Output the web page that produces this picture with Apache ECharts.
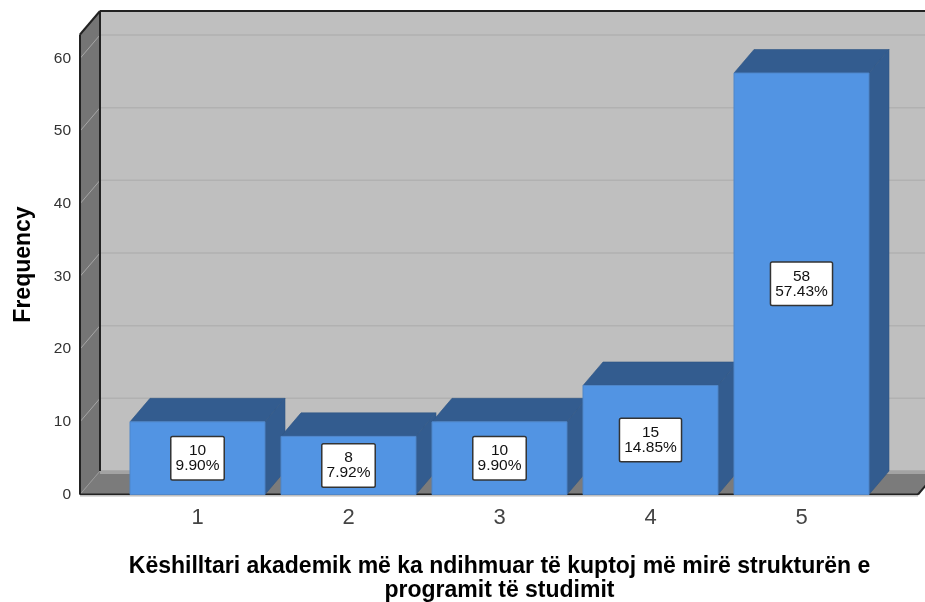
<!DOCTYPE html>
<html>
<head>
<meta charset="utf-8">
<style>html,body{margin:0;padding:0;background:#fff}#c{width:925px;height:602px}</style>
<script src="https://cdn.jsdelivr.net/npm/echarts@6/dist/echarts.min.js"></script>
</head>
<body>
<div id="c"></div>
<script>
const categories = ['1', '2', '3', '4', '5'];
const counts = [10, 8, 10, 15, 58];
const percents = ['9.90%', '7.92%', '9.90%', '14.85%', '57.43%'];
const yTicks = [0, 10, 20, 30, 40, 50, 60];
const yAxisTop = 63.3;
const xTitle = 'Këshilltari akademik më ka ndihmuar të kuptoj më mirë strukturën e\nprogramit të studimit';
const yTitle = 'Frequency';

const DX = 20, DY = 23.5;
const FONT = '"Liberation Sans", Arial, sans-serif';
const poly = (points, fill, stroke, lw) => ({
  type: 'polygon', shape: { points },
  style: { fill, stroke: stroke || fill, lineWidth: lw === undefined ? 0.6 : lw }
});
const line = (x1, y1, x2, y2, stroke, lineWidth) => ({
  type: 'line', shape: { x1, y1, x2, y2 }, style: { stroke, lineWidth }
});

function renderWalls(params, api) {
  const cs = params.coordSys;
  const L = cs.x - 42, R = cs.x + cs.width + 41;
  const B = cs.y + cs.height, T = cs.y;
  const children = [
    poly([[L + DX, T - DY], [R + DX, T - DY], [R + DX, B - DY], [L + DX, B - DY]], '#bfbfbf'),
    poly([[L, T], [L + DX, T - DY], [L + DX, B - DY], [L, B]], '#757575'),
    poly([[L, B], [L + DX, B - DY], [R + DX, B - DY], [R, B]], '#7b7b7b')
  ];
  yTicks.forEach(v => {
    const y = api.coord([0, v])[1];
    if (v > 0) children.push(line(L + DX, y - DY, R + DX, y - DY, '#b1b1b1', 1.5));
    children.push(line(L, y, L + DX, y - DY, v > 0 ? '#a6a6a6' : '#9a9a9a', 1));
  });
  children.push(line(L + DX, B - DY + 1.5, R + DX, B - DY + 1.5, '#a3a3a3', 3));
  children.push(line(L + DX, T - DY, R + DX, T - DY, '#222222', 2));
  children.push(line(L + DX, T - DY, L + DX, B - DY, '#222222', 2));
  children.push(line(L, T, L + DX, T - DY, '#222222', 2));
  children.push(line(L, T, L, B, '#222222', 2));
  children.push(line(L, B, R, B, '#222222', 2));
  children.push(line(R, B, R + DX, B - DY, '#222222', 2));
  children.push(line(L, B + 1.5, R, B + 1.5, '#cfcfcf', 1.5));
  return { type: 'group', children };
}

function renderBar(params, api) {
  const idx = params.dataIndex;
  const cat = api.value(0), val = api.value(1);
  const p = api.coord([cat, val]), base = api.coord([cat, 0]);
  const w = api.size([1, 0])[0] * 0.894;
  const x0 = p[0] - w / 2, x1 = p[0] + w / 2, top = p[1], bot = base[1];
  return {
    type: 'group',
    children: [
      poly([[x0, top], [x0 + DX, top - DY], [x1 + DX, top - DY], [x1, top]], '#335c8f', '#2f5585'),
      poly([[x1, top], [x1 + DX, top - DY], [x1 + DX, bot - DY], [x1, bot]], '#335c8f', '#2f5585'),
      poly([[x0, top], [x1, top], [x1, bot], [x0, bot]], '#5294e3', '#4f86c9', 1),
      {
        type: 'text',
        x: p[0], y: (top + bot) / 2,
        style: {
          text: counts[idx] + '\n' + percents[idx],
          font: '15.5px ' + FONT, fill: '#111111',
          align: 'center', verticalAlign: 'middle', lineHeight: 15,
          backgroundColor: '#ffffff', borderColor: '#333333', borderWidth: 1.5,
          padding: [6, 4, 6, 4], borderRadius: 1
        }
      }
    ]
  };
}

const chart = echarts.init(document.getElementById('c'), null, { renderer: 'canvas' });
chart.setOption({
  animation: false,
  backgroundColor: '#ffffff',
  grid: { left: 122, top: 34.5, width: 755, height: 460, outerBoundsMode: 'none', containLabel: false },
  xAxis: {
    type: 'category', data: categories,
    axisLine: { show: false }, axisTick: { show: false },
    axisLabel: { fontFamily: FONT, fontSize: 22, color: '#444444', margin: 12 },
    name: xTitle, nameLocation: 'middle', nameGap: 60,
    nameTextStyle: { fontFamily: FONT, fontSize: 23, fontWeight: 'bold', color: '#000000', lineHeight: 24 }
  },
  yAxis: {
    type: 'value', min: 0, max: yAxisTop, interval: 10, offset: 42,
    splitLine: { show: false }, axisLine: { show: false }, axisTick: { show: false },
    axisLabel: { fontFamily: FONT, fontSize: 15.5, color: '#333333', margin: 9, padding: [3, 0, 0, 0], showMaxLabel: false, showMinLabel: true },
    name: yTitle, nameLocation: 'middle', nameGap: 45, nameRotate: 90,
    nameTextStyle: { fontFamily: FONT, fontSize: 23, fontWeight: 'bold', color: '#000000' }
  },
  series: [
    { type: 'custom', z: 1, silent: true, clip: false, renderItem: renderWalls, data: [[0, 0]], encode: { x: 0, y: 1 } },
    { type: 'custom', z: 2, silent: true, clip: false, renderItem: renderBar,
      data: categories.map((c, i) => [i, counts[i]]), encode: { x: 0, y: 1 } }
  ]
});
</script>
</body>
</html>
